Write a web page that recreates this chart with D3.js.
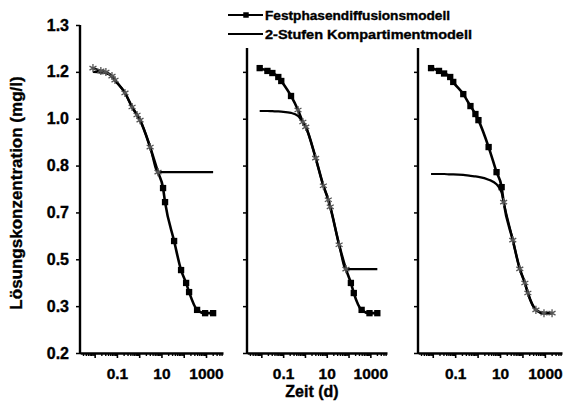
<!DOCTYPE html>
<html>
<head>
<meta charset="utf-8">
<script src="https://cdn.jsdelivr.net/npm/d3@7"></script>
<style>
    body { margin: 0; background: #fff; }
    svg text { font-family: "Liberation Sans", Arial, sans-serif; font-weight: bold; fill: #000; stroke: #000; stroke-width: 0.35px; }
    .axis path, .axis line { stroke: #000; }
</style>
</head>
<body>
<div id="chart"></div>
<script>
// sampling times (d), shared by all three panels
const times = [0.0084, 0.019, 0.032, 0.06, 0.082, 0.23, 0.48, 0.8, 1.09, 3.1, 7.0, 11.8, 14.5, 37, 76, 128, 174, 398, 912, 2089];

// y axis ticks (labels are evenly spaced on the original axis)
const yTicks = [0.2, 0.3, 0.5, 0.7, 0.8, 1.0, 1.2, 1.3];
const yTickLabels = ["0.2", "0.3", "0.5", "0.7", "0.8", "1.0", "1.2", "1.3"];
const xTicks = [0.01, 0.1, 1, 10, 100, 1000];
const xTickLabels = ["", "0.1", "", "10", "", "1000"];

// panel 1
const p1Fest = [1.208, 1.202, 1.199, 1.182, 1.165, 1.110, 1.050, 1.016, 0.994, 0.879, 0.786, 0.752, 0.722, 0.578, 0.454, 0.399, 0.360, 0.292, 0.285, 0.285];
const p1Komp = [1.200, 1.197, 1.194, 1.180, 1.163, 1.110, 1.050, 1.016, 0.994, 0.879, 0.786, 0.786, 0.786, 0.786, 0.786, 0.786, 0.786, 0.786, 0.786, 0.786];
const p1StarTimes = [0.0084, 0.019, 0.032, 0.06, 0.082, 0.23, 0.48, 0.8, 1.09, 3.1, 7.0];

// panel 2
const p2Fest = [1.208, 1.202, 1.195, 1.178, 1.161, 1.097, 1.037, 0.986, 0.965, 0.832, 0.757, 0.727, 0.712, 0.562, 0.458, 0.399, 0.356, 0.292, 0.285, 0.285];
const p2Komp = [1.033, 1.033, 1.032, 1.031, 1.030, 1.025, 1.012, 0.985, 0.965, 0.832, 0.757, 0.727, 0.712, 0.562, 0.458, 0.458, 0.458, 0.458, 0.458, 0.458];
const p2StarTimes = [0.48, 0.8, 1.09, 3.1, 7.0, 11.8, 14.5, 37, 76];

// panel 3
const p3Fest = [1.208, 1.202, 1.193, 1.178, 1.157, 1.105, 1.054, 1.020, 0.994, 0.879, 0.786, 0.754, 0.722, 0.582, 0.459, 0.399, 0.356, 0.292, 0.285, 0.285];
const p3Komp = [0.782, 0.782, 0.782, 0.781, 0.781, 0.780, 0.778, 0.777, 0.776, 0.770, 0.760, 0.742, 0.722, 0.582, 0.459, 0.399, 0.356, 0.292, 0.285, 0.285];
const p3StarTimes = [14.5, 37, 76, 128, 174, 398, 912, 2089];

const legendLabels = ["Festphasendiffusionsmodell", "2-Stufen Kompartimentmodell"];

const width = 572, height = 408;
const axisBottom = 353, axisTop = 25;

let svg = d3.select("#chart").append("svg")
    .attr("width", width)
    .attr("height", height);

// shared y scale, tick labels sit at even steps
let y = d3.scaleLinear()
    .domain(yTicks)
    .range(yTicks.map((d, i) => axisBottom - i * (axisBottom - axisTop) / (yTicks.length - 1)));

// one panel
panelVis = function (x0, x1, top, showLabels, fest, komp, starTimes) {
    let vis = this;
    vis.x = d3.scaleLog().domain([0.0022, 5800]).range([x0, x1]);

    let g = svg.append("g");

    // y axis
    let yAxis = d3.axisLeft(y)
        .tickValues(showLabels ? yTicks : yTicks.slice(0, -1))
        .tickFormat(showLabels ? (d => yTickLabels[yTicks.indexOf(d)]) : "")
        .tickSize(4)
        .tickPadding(7);
    let ya = g.append("g").attr("class", "axis")
        .attr("transform", "translate(" + x0 + ",0)")
        .call(yAxis);
    ya.select(".domain").remove();
    ya.selectAll("line").attr("stroke-width", 1.5);
    ya.selectAll("text").style("font-size", "16px");
    g.append("line")
        .attr("x1", x0).attr("x2", x0)
        .attr("y1", top).attr("y2", axisBottom + 1)
        .attr("stroke", "#000").attr("stroke-width", 2.4);

    // x axis minor ticks
    let minor = [];
    xTicks.concat([0.001]).forEach(d => {
        for (let k = 2; k < 10; k++) minor.push(d * k);
    });
    minor = minor.filter(d => d >= 0.0022 && d <= 5800);
    g.append("g").attr("class", "axis")
        .attr("transform", "translate(0," + axisBottom + ")")
        .call(d3.axisBottom(vis.x).tickValues(minor).tickFormat("").tickSize(3).tickSizeOuter(0))
        .call(a => a.select(".domain").remove())
        .selectAll("line").attr("stroke-width", 1.4);

    // x axis major
    let xa = g.append("g").attr("class", "axis")
        .attr("transform", "translate(0," + axisBottom + ")")
        .call(d3.axisBottom(vis.x).tickValues(xTicks)
            .tickFormat((d, i) => xTickLabels[i])
            .tickSize(5).tickSizeOuter(0).tickPadding(10));
    xa.select(".domain").attr("stroke-width", 2.4);
    xa.selectAll("line").attr("stroke-width", 1.6);
    xa.selectAll("text").style("font-size", "15.5px");

    let festData = times.map((t, i) => ({t: t, c: fest[i]}));
    let kompData = times.map((t, i) => ({t: t, c: komp[i]}));

    let line = d3.line()
        .curve(d3.curveMonotoneX)
        .x(d => vis.x(d.t))
        .y(d => y(d.c));

    g.append("path").datum(kompData)
        .attr("d", line)
        .attr("fill", "none").attr("stroke", "#000").attr("stroke-width", 2.2);

    g.append("path").datum(festData)
        .attr("d", line)
        .attr("fill", "none").attr("stroke", "#000").attr("stroke-width", 2.6);

    // squares on the Festphasen model
    g.selectAll(".sq").data(festData.filter(d => starTimes.indexOf(d.t) < 0))
        .enter().append("path")
        .attr("class", "sq")
        .attr("transform", d => "translate(" + vis.x(d.t) + "," + y(d.c) + ")")
        .attr("d", d3.symbol(d3.symbolSquare).size(40))
        .attr("fill", "#000");

    // measured points
    g.selectAll(".st").data(festData.filter(d => starTimes.indexOf(d.t) >= 0))
        .enter().append("path")
        .attr("class", "st")
        .attr("transform", d => "translate(" + vis.x(d.t) + "," + y(d.c) + ")")
        .attr("d", d3.symbol(d3.symbolAsterisk).size(45))
        .attr("fill", "none").attr("stroke", "#555").attr("stroke-width", 1.3);
};

new panelVis(80, 223, 25, true, p1Fest, p1Komp, p1StarTimes);
new panelVis(247, 387, 48, false, p2Fest, p2Komp, p2StarTimes);
new panelVis(418, 562, 48, false, p3Fest, p3Komp, p3StarTimes);

// legend
let legend = svg.append("g");
let legendWidths = [185, 207];
legendLabels.forEach((label, i) => {
    let ly = 15 + i * 19;
    legend.append("line")
        .attr("x1", 228).attr("x2", 263)
        .attr("y1", ly).attr("y2", ly)
        .attr("stroke", "#000").attr("stroke-width", 2.2);
    if (i === 0) {
        legend.append("path")
            .attr("transform", "translate(246," + ly + ")")
            .attr("d", d3.symbol(d3.symbolSquare).size(30));
    }
    legend.append("text")
        .attr("x", 265).attr("y", ly + 4.5)
        .attr("textLength", legendWidths[i])
        .attr("lengthAdjust", "spacingAndGlyphs")
        .style("font-size", "12.5px")
        .text(label);
});

// axis titles
svg.append("text")
    .attr("x", 312).attr("y", 397)
    .attr("text-anchor", "middle")
    .style("font-size", "16px")
    .text("Zeit (d)");

svg.append("text")
    .attr("transform", "translate(22,193) rotate(-90)")
    .attr("text-anchor", "middle")
    .style("font-size", "17px")
    .text("Lösungskonzentration (mg/l)");
</script>
</body>
</html>
